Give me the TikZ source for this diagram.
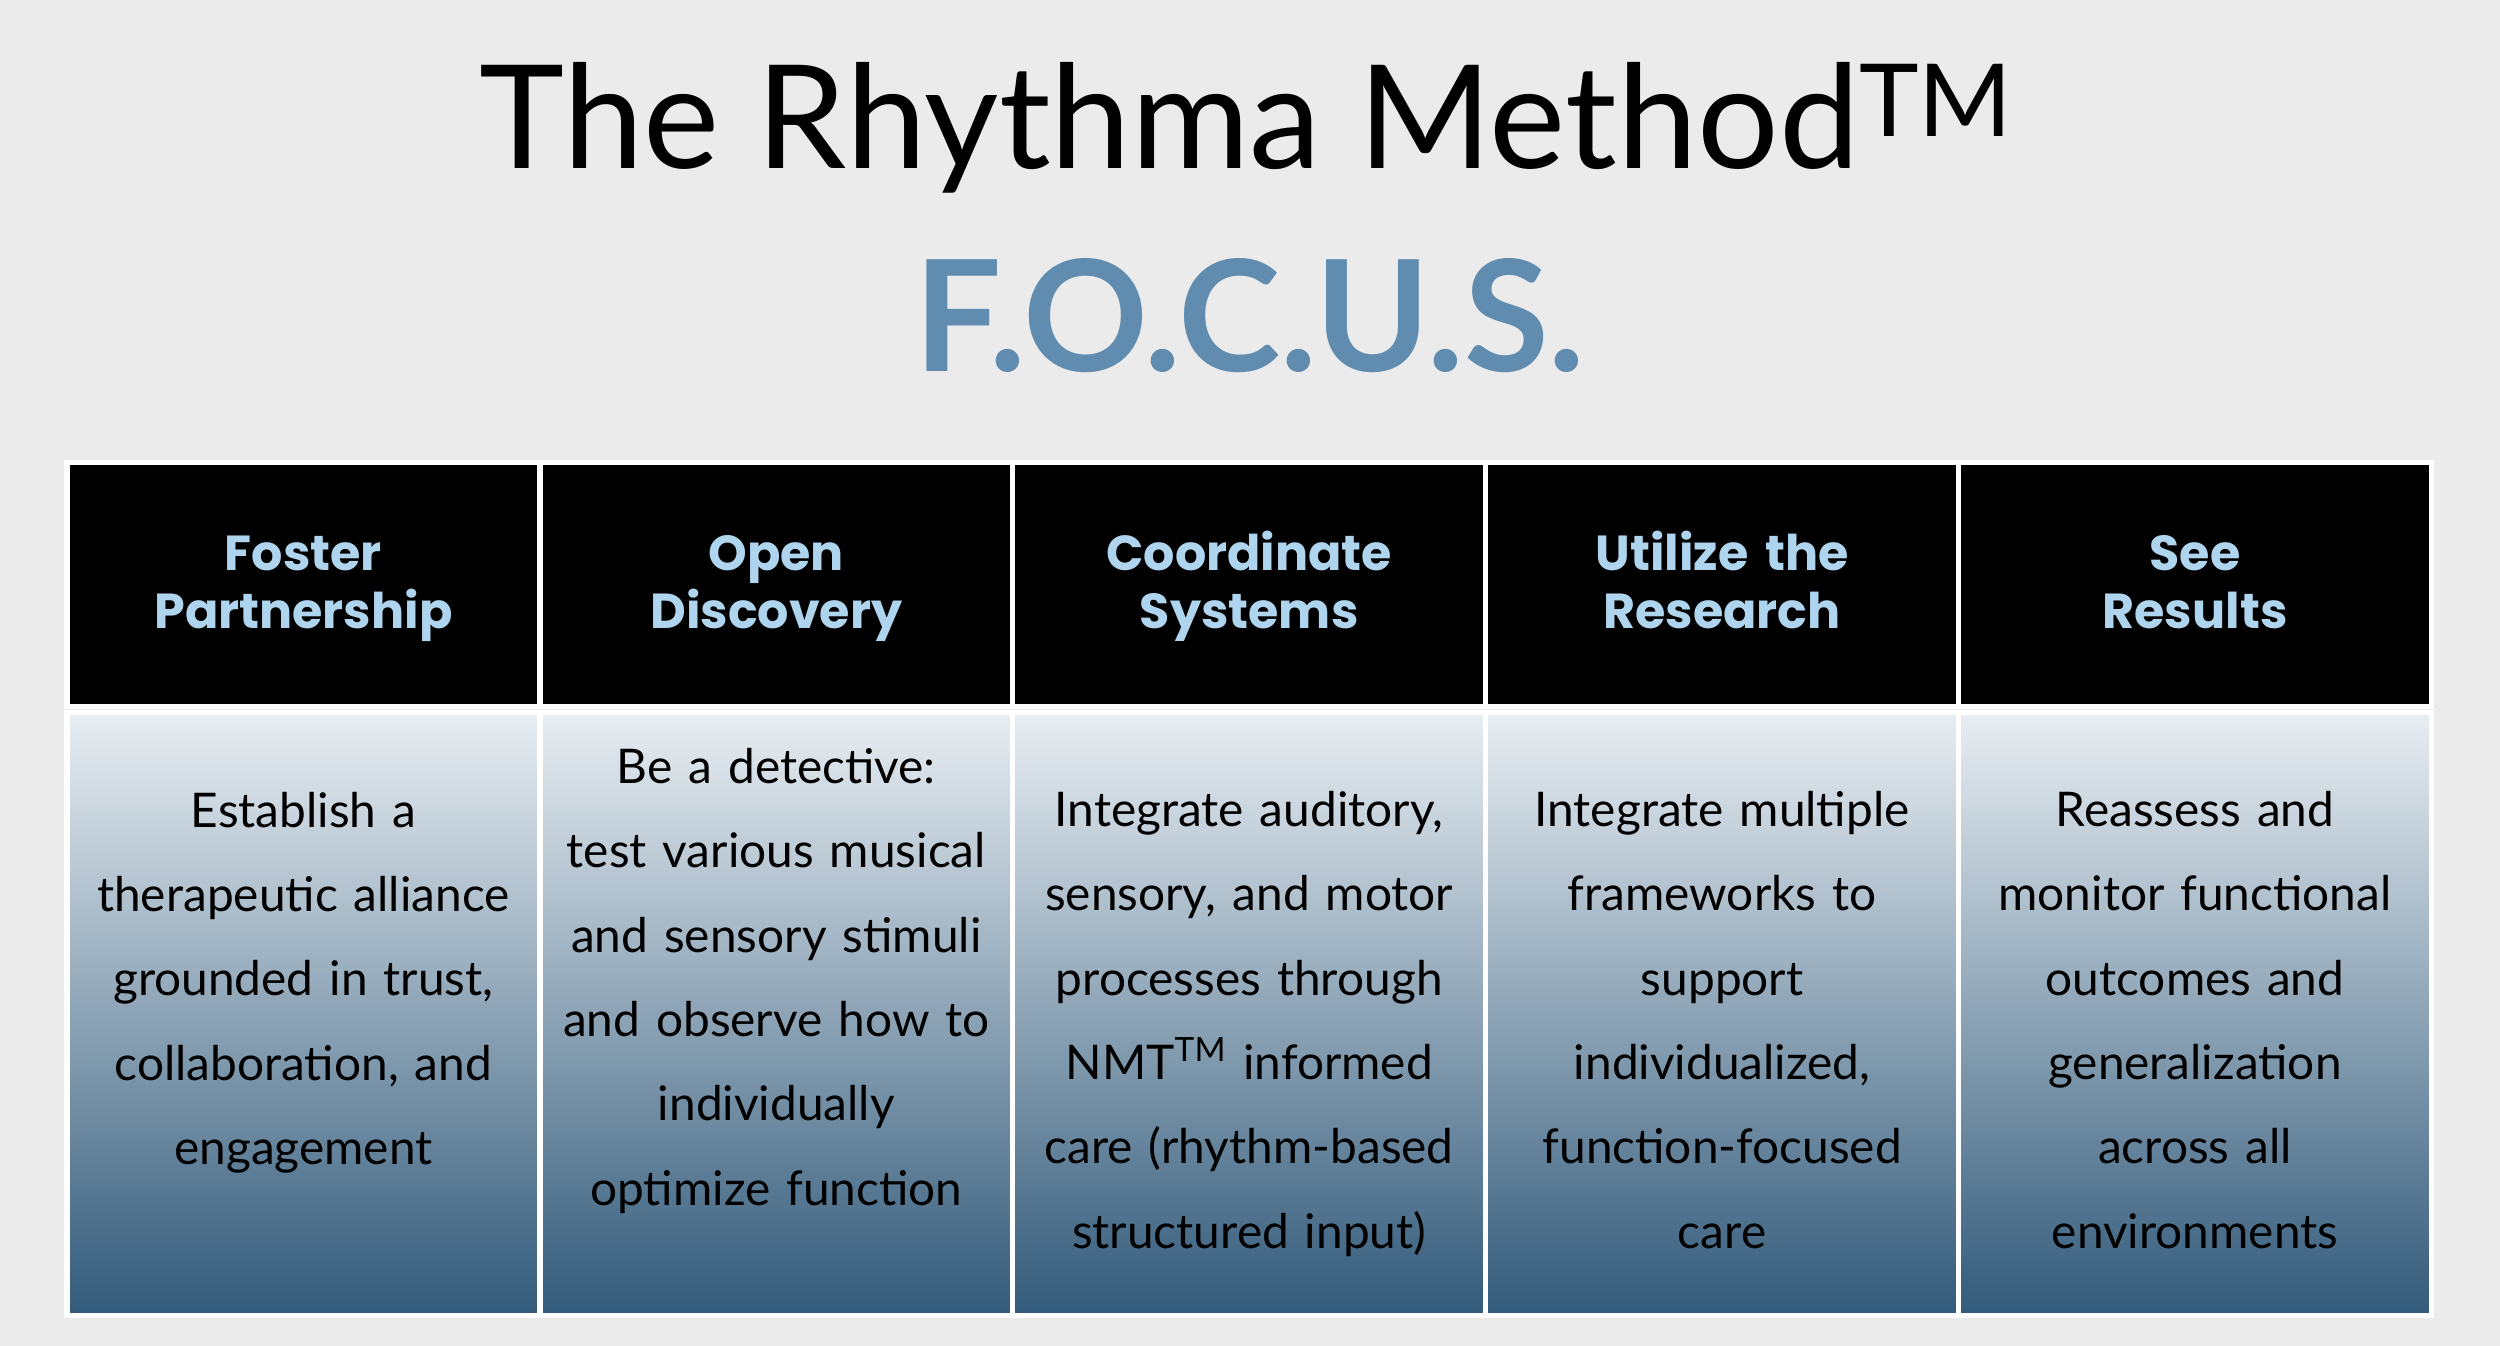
\documentclass[tikz,border=0pt]{standalone}
\usepackage{fontspec}
\setmainfont{Lato}
\newfontfamily\headfont{Poppins}
\usepackage{tikz}
\usetikzlibrary{positioning, calc}
\definecolor{pageGray}{RGB}{235, 235, 235}
\definecolor{headBlue}{RGB}{175, 212, 238}
\definecolor{focusBlue}{RGB}{95, 140, 175}
\definecolor{cellTop}{RGB}{232, 238, 242}
\definecolor{cellBottom}{RGB}{50, 90, 122}
\begin{document}
\begin{tikzpicture}[x=0.01594cm, y=-0.01594cm,
    headtext/.style={text=headBlue, font=\headfont\fontsize{14}{16.5}\selectfont\bfseries, align=center, text width=4.2cm},
    bodytext/.style={font=\fontsize{13.6}{24}\selectfont, align=center, text width=4.5cm}]
        % background
        \fill[pageGray] (0,0) rectangle (1568,844);
        % title
        \node[font=\fontsize{41}{50}\selectfont] (title) at (782,80) {The Rhythma Method\textsuperscript{TM}};
        \node[font=\fontsize{44}{50}\selectfont\bfseries, text=focusBlue] (focus) at (784,198) {F.O.C.U.S.};
        % table
        \foreach \i/\yb/\hd/\bd in {
            0/614/{Foster\\Partnership}/{Establish a\\therapeutic alliance\\grounded in trust,\\collaboration, and\\engagement},
            1/613/{Open\\Discovery}/{Be a detective:\\test various musical\\and sensory stimuli\\and observe how to\\individually\\optimize function},
            2/640/{Coordinate\\Systems}/{Integrate auditory,\\sensory, and motor\\processes through\\NMT\textsuperscript{TM} informed\\care (rhythm-based\\structured input)},
            3/640/{Utilize the\\Research}/{Integrate multiple\\frameworks to\\support\\individualized,\\function-focused\\care},
            4/640/{See\\Results}/{Reassess and\\monitor functional\\outcomes and\\generalization\\across all\\environments}} {
            \pgfmathsetmacro{\xl}{42+296.6*\i}
            \pgfmathsetmacro{\xr}{42+296.6*(\i+1)}
            \draw[white, line width=1.5pt, fill=black] (\xl,290) rectangle (\xr,443);
            \shade[top color=cellTop, bottom color=cellBottom] (\xl,447) rectangle (\xr,825);
            \draw[white, line width=1.5pt] (\xl,447) rectangle (\xr,825);
            \node[headtext] (head\i) at ({(\xl+\xr)/2},369) {\strut\hd\strut};
            \node[bodytext] (body\i) at ({(\xl+\xr)/2},\yb) {\strut\bd\strut};
        }
    \end{tikzpicture}
\end{document}
